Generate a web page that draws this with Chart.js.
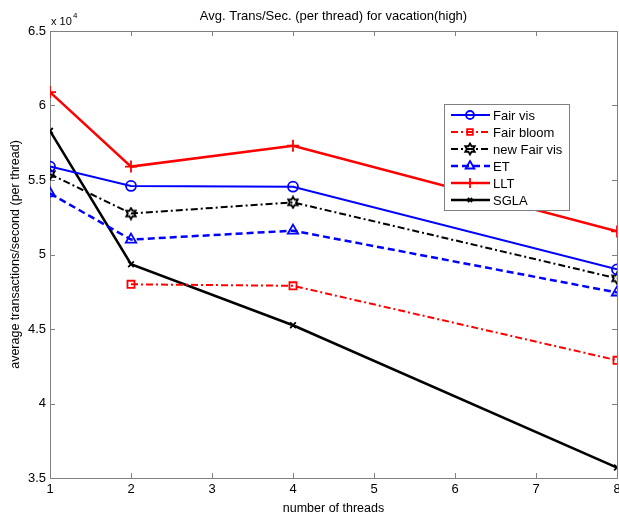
<!DOCTYPE html>
<html>
<head>
<meta charset="utf-8">
<script src="https://cdn.jsdelivr.net/npm/chart.js"></script>
<style>
  body { margin: 0; background: #fff; }
  canvas { display: block; }
</style>
</head>
<body>
<canvas id="vacationChart" width="619" height="518"></canvas>
<script>
// thread counts and throughput per thread for each scheme
const threads = [1, 2, 4, 8];
const fairVis = [55900, 54600, 54550, 49000];
const fairBloom = [null, 48000, 47900, 42900];
const newFairVis = [55400, 52750, 53500, 48400];
const et = [54100, 51000, 51600, 47450];
const llt = [60900, 55900, 57300, 51550];
const sgla = [58300, 49350, 45250, 35700];

const xTicks = [1, 2, 3, 4, 5, 6, 7, 8];
const yTicks = [35000, 40000, 45000, 50000, 55000, 60000, 65000];

const FONT = 'Liberation Sans, Arial, Helvetica, sans-serif';
const AXIS_GREY = '#808080';
const CLEAR = 'rgba(0,0,0,0)';

// small hexagram marker (like matlab 'h')
function hexagram(color) {
    const c = document.createElement('canvas');
    c.width = 14; c.height = 14;
    const g = c.getContext('2d');
    g.strokeStyle = color;
    g.lineWidth = 1.8;
    g.beginPath();
    for (let i = 0; i < 12; i++) {
        const r = i % 2 === 0 ? 5.5 : 3.2;
        const a = -Math.PI / 2 + i * Math.PI / 6;
        const px = 7 + r * Math.cos(a), py = 7 + r * Math.sin(a);
        if (i === 0) g.moveTo(px, py); else g.lineTo(px, py);
    }
    g.closePath();
    g.stroke();
    return c;
}

function toPoints(values) {
    return threads.map((t, i) => ({ x: t, y: values[i] }));
}

const datasets = [
    { label: 'Fair vis', data: toPoints(fairVis), borderColor: '#0000ff', borderWidth: 2,
      borderDash: [], pointStyle: 'circle', pointRadius: 5 },
    { label: 'Fair bloom', data: toPoints(fairBloom), borderColor: '#ff0000', borderWidth: 2,
      borderDash: [7, 3, 2, 3], pointStyle: 'rect', pointRadius: 5 },
    { label: 'new Fair vis', data: toPoints(newFairVis), borderColor: '#000000', borderWidth: 2,
      borderDash: [7, 3, 2, 3], pointStyle: hexagram('#000'), pointRadius: 5 },
    { label: 'ET', data: toPoints(et), borderColor: '#0000ff', borderWidth: 2.5,
      borderDash: [7, 4], pointStyle: 'triangle', pointRadius: 6 },
    { label: 'LLT', data: toPoints(llt), borderColor: '#ff0000', borderWidth: 2.5,
      borderDash: [], pointStyle: 'cross', pointRadius: 6 },
    { label: 'SGLA', data: toPoints(sgla), borderColor: '#000000', borderWidth: 2.5,
      borderDash: [], pointStyle: 'crossRot', pointRadius: 4 }
];
datasets.forEach(d => {
    d.pointBorderColor = d.borderColor;
    d.pointBackgroundColor = CLEAR;
    d.pointBorderWidth = 1.8;
    d.tension = 0;
    d.fill = false;
});

// frame with inward ticks on all four sides, plus title and exponent
const boxTicks = {
    id: 'boxTicks',
    beforeDatasetsDraw(chart) {
        const { ctx, chartArea: a, scales } = chart;
        ctx.save();
        ctx.strokeStyle = AXIS_GREY;
        ctx.lineWidth = 1;
        ctx.strokeRect(a.left + 0.5, a.top + 0.5, a.right - a.left, a.bottom - a.top);
        ctx.beginPath();
        xTicks.forEach(v => {
            const px = Math.round(scales.x.getPixelForValue(v)) + 0.5;
            ctx.moveTo(px, a.bottom); ctx.lineTo(px, a.bottom - 5);
            ctx.moveTo(px, a.top); ctx.lineTo(px, a.top + 5);
        });
        yTicks.forEach(v => {
            const py = Math.round(scales.y.getPixelForValue(v)) + 0.5;
            ctx.moveTo(a.left, py); ctx.lineTo(a.left + 5, py);
            ctx.moveTo(a.right, py); ctx.lineTo(a.right - 5, py);
        });
        ctx.stroke();
        ctx.restore();
    },
    afterDraw(chart) {
        const { ctx, chartArea: a } = chart;
        ctx.save();
        ctx.fillStyle = '#000';
        ctx.textBaseline = 'alphabetic';
        ctx.font = '13px ' + FONT;
        ctx.textAlign = 'center';
        ctx.fillText('Avg. Trans/Sec. (per thread) for vacation(high)', (a.left + a.right) / 2, 20);
        ctx.textAlign = 'left';
        ctx.font = '11px ' + FONT;
        ctx.fillText('x 10', a.left + 1, 25);
        ctx.font = '8px ' + FONT;
        ctx.fillText('4', a.left + 23, 18);
        ctx.restore();
    }
};

// legend box drawn inside the plot
const lineLegend = {
    id: 'lineLegend',
    afterDraw(chart) {
        const { ctx } = chart;
        const left = 444, top = 104, w = 125, h = 106, rowH = 17;
        ctx.save();
        ctx.fillStyle = '#fff';
        ctx.fillRect(left, top, w, h);
        ctx.strokeStyle = AXIS_GREY;
        ctx.lineWidth = 1;
        ctx.strokeRect(left + 0.5, top + 0.5, w, h);
        datasets.forEach((d, i) => {
            const y = top + 11 + i * rowH;
            ctx.strokeStyle = d.borderColor;
            ctx.lineWidth = d.borderWidth;
            ctx.setLineDash(d.borderDash);
            ctx.beginPath();
            ctx.moveTo(451, y); ctx.lineTo(490, y);
            ctx.stroke();
            ctx.setLineDash([]);
            ctx.fillStyle = CLEAR;
            ctx.lineWidth = d.pointBorderWidth;
            Chart.helpers.drawPoint(ctx, {
                pointStyle: d.pointStyle, radius: d.pointRadius - 1, rotation: 0,
                borderWidth: d.pointBorderWidth
            }, 470, y);
            ctx.fillStyle = '#000';
            ctx.font = '13px ' + FONT;
            ctx.textAlign = 'left';
            ctx.textBaseline = 'middle';
            ctx.fillText(d.label, 493, y + 1);
        });
        ctx.restore();
    }
};

new Chart(document.getElementById('vacationChart').getContext('2d'), {
    type: 'line',
    data: { datasets: datasets },
    options: {
        responsive: false,
        animation: false,
        layout: { autoPadding: false, padding: { top: 31, right: 2, left: 0, bottom: 0 } },
        plugins: {
            legend: { display: false },
            tooltip: { enabled: false }
        },
        scales: {
            x: {
                type: 'linear',
                min: 1, max: 8,
                grid: { display: false, drawTicks: false },
                border: { display: false },
                ticks: { stepSize: 1, color: '#000', padding: 4, font: { family: FONT, size: 13 } },
                title: { display: true, text: 'number of threads', color: '#000',
                         font: { family: FONT, size: 12.5 }, padding: { bottom: 2 } },
                afterFit(scale) {
                    scale.height = 40;
                    scale.paddingLeft = 0;
                    scale.paddingRight = 0;
                }
            },
            y: {
                min: 35000, max: 65000,
                grid: { display: false, drawTicks: false },
                border: { display: false },
                ticks: {
                    stepSize: 5000, color: '#000', padding: 4,
                    font: { family: FONT, size: 13 },
                    callback: v => String(v / 10000)
                },
                title: { display: true, text: 'average transactions/second (per thread)', color: '#000',
                         font: { family: FONT, size: 12.5 }, padding: { top: 8 } },
                afterFit(scale) {
                    scale.width = 50;
                    scale.paddingTop = 0;
                    scale.paddingBottom = 0;
                }
            }
        }
    },
    plugins: [boxTicks, lineLegend]
});
</script>
</body>
</html>
